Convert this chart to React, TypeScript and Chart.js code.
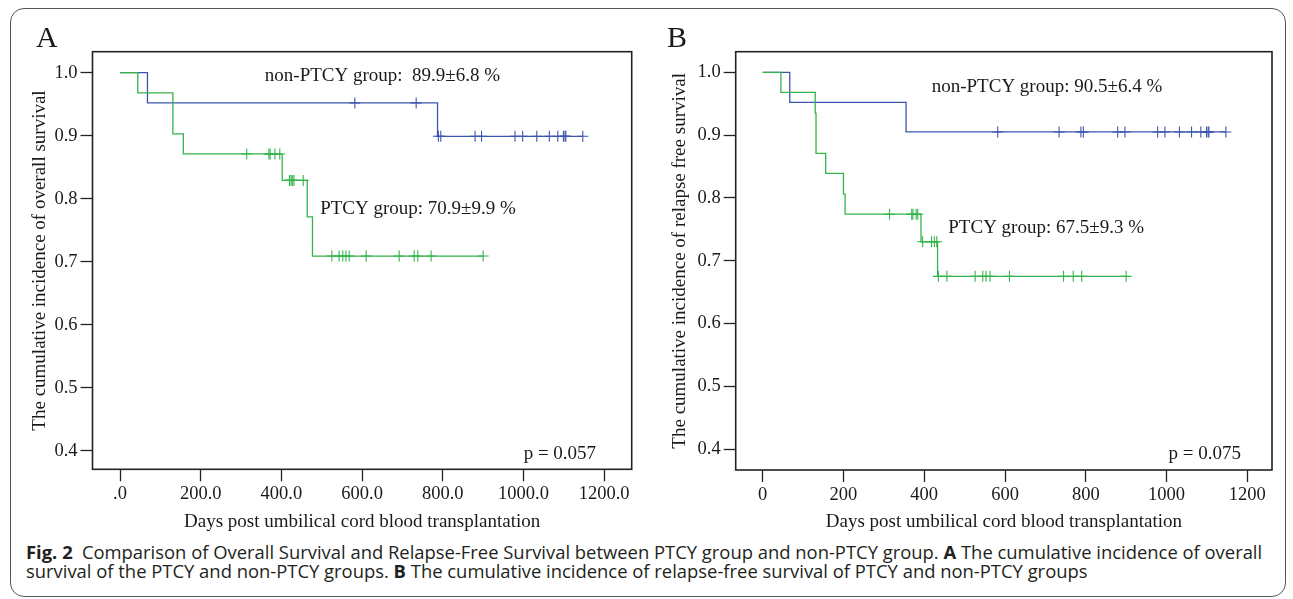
import React, { useEffect, useLayoutEffect, useRef, useState } from 'react';
import { Chart, registerables } from 'chart.js';

Chart.register(...registerables);

const SERIF = "'Liberation Serif', 'Times New Roman', Times, serif";
const BLUE = '#3c55b0';
const GREEN = '#33b44a';
const INK = '#1a1a1a';

// ---------- shared ticks ----------
const xTickValues = [0, 200, 400, 600, 800, 1000, 1200];
const yTickValues = [0.4, 0.5, 0.6, 0.7, 0.8, 0.9, 1.0];

// ---------- Panel A: overall survival ----------
const osNonPtcyDays = [0, 68, 787, 1147];
const osNonPtcySurv = [1.0, 0.952, 0.899, 0.899];
const osNonPtcyCensored = [582, 734, 789, 795, 880, 896, 979, 998, 1033, 1064, 1085, 1099, 1103, 1105, 1147];

const osPtcyDays = [0, 44, 131, 157, 402, 464, 477, 900];
const osPtcySurv = [1.0, 0.968, 0.903, 0.871, 0.829, 0.771, 0.709, 0.709];
const osPtcyCensored = [314, 369, 372, 384, 396, 420, 424, 427, 431, 454, 525, 543, 552, 560, 568, 610, 692, 729, 738, 771, 900];

const osLabels = ['non-PTCY group:  89.9±6.8 %', 'PTCY group: 70.9±9.9 %', 'p = 0.057'];

// ---------- Panel B: relapse-free survival ----------
const rfsNonPtcyDays = [0, 67, 355, 1147];
const rfsNonPtcySurv = [1.0, 0.952, 0.905, 0.905];
const rfsNonPtcyCensored = [582, 734, 788, 794, 879, 897, 978, 996, 1032, 1062, 1085, 1099, 1103, 1105, 1147];

const rfsPtcyDays = [0, 45, 130, 132, 156, 200, 204, 392, 433, 900];
const rfsPtcySurv = [1.0, 0.968, 0.935, 0.871, 0.839, 0.806, 0.774, 0.73, 0.675, 0.675];
const rfsPtcyCensored = [314, 369, 372, 380, 384, 396, 418, 425, 431, 435, 456, 526, 545, 553, 563, 611, 745, 769, 790, 900];

const rfsLabels = ['non-PTCY group: 90.5±6.4 %', 'PTCY group: 67.5±9.3 %', 'p = 0.075'];

// ---------- helpers ----------
function survAt(days: number[], surv: number[], t: number) {
  let v = surv[0];
  for (let i = 0; i < days.length; i++) if (days[i] <= t) v = surv[i];
  return v;
}

type PanelSpec = {
  letter: string;
  left: number;
  width: number;
  height: number;
  padding: { left: number; top: number; right: number; bottom: number };
  yAxisWidth: number;
  xAxisHeight: number;
  xMin: number; xMax: number; yMin: number; yMax: number;
  yTitle: string;
  yTitlePad: number;
  xFmt: (v: number) => string;
  nonDays: number[]; nonSurv: number[]; nonCens: number[];
  ptDays: number[]; ptSurv: number[]; ptCens: number[];
  labels: string[];
  labelPos: { x: number; y: number; align: CanvasTextAlign }[];
  letterX: number; letterY: number;
};

const specA: PanelSpec = {
  letter: 'A', left: 0, width: 645, height: 540,
  padding: { left: 0, top: 51.7, right: 13.3, bottom: 0 },
  yAxisWidth: 92.5, xAxisHeight: 70.7,
  xMin: -68.2, xMax: 1268.2, yMin: 0.3705, yMax: 1.0333,
  yTitle: 'The cumulative incidence of overall survival', yTitlePad: 28.6,
  xFmt: (v) => (v === 0 ? '.0' : v.toFixed(1)),
  nonDays: osNonPtcyDays, nonSurv: osNonPtcySurv, nonCens: osNonPtcyCensored,
  ptDays: osPtcyDays, ptSurv: osPtcySurv, ptCens: osPtcyCensored,
  labels: osLabels,
  labelPos: [
    { x: 359, y: 0.994, align: 'left' },
    { x: 496, y: 0.783, align: 'left' },
    { x: 1180, y: 0.395, align: 'right' },
  ],
  letterX: 36, letterY: 47,
};

const specB: PanelSpec = {
  letter: 'B', left: 645, width: 648, height: 540,
  padding: { left: 0, top: 51.7, right: 21, bottom: 0 },
  yAxisWidth: 90.7, xAxisHeight: 70,
  xMin: -66.9, xMax: 1261.2, yMin: 0.3666, yMax: 1.0328,
  yTitle: 'The cumulative incidence of relapse free survival', yTitlePad: 23.3,
  xFmt: (v) => String(v),
  nonDays: rfsNonPtcyDays, nonSurv: rfsNonPtcySurv, nonCens: rfsNonPtcyCensored,
  ptDays: rfsPtcyDays, ptSurv: rfsPtcySurv, ptCens: rfsPtcyCensored,
  labels: rfsLabels,
  labelPos: [
    { x: 418.5, y: 0.977, align: 'left' },
    { x: 459.6, y: 0.7515, align: 'left' },
    { x: 1184.4, y: 0.392, align: 'right' },
  ],
  letterX: 22, letterY: 46.7,
};

function buildConfig(p: PanelSpec): any {
  const line = (days: number[], surv: number[], color: string) => ({
    data: days.map((d, i) => ({ x: d, y: surv[i] })),
    borderColor: color,
    borderWidth: 1.3,
    stepped: 'before',
    pointRadius: 0,
    fill: false,
    tension: 0,
  });
  const cens = (c: number[], days: number[], surv: number[], color: string) => ({
    data: c.map((d) => ({ x: d, y: survAt(days, surv, d) })),
    showLine: false,
    pointStyle: 'cross',
    pointRadius: 5.5,
    pointBorderWidth: 1.1,
    pointBorderColor: color,
    pointBackgroundColor: color,
    borderColor: color,
  });

  const framePlugin = {
    id: 'frame',
    afterDraw(chart: any) {
      const { ctx, chartArea: a, scales } = chart;
      ctx.save();
      ctx.strokeStyle = '#222';
      ctx.lineWidth = 1.6;
      ctx.strokeRect(a.left, a.top, a.right - a.left, a.bottom - a.top);
      ctx.fillStyle = INK;
      ctx.font = `19px ${SERIF}`;
      ctx.textBaseline = 'middle';
      p.labels.forEach((t, i) => {
        const pos = p.labelPos[i];
        ctx.textAlign = pos.align;
        ctx.fillText(t, scales.x.getPixelForValue(pos.x), scales.y.getPixelForValue(pos.y));
      });
      ctx.font = `30px ${SERIF}`;
      ctx.textAlign = 'left';
      ctx.textBaseline = 'alphabetic';
      ctx.fillText(p.letter, p.letterX, p.letterY);
      ctx.restore();
    },
  };

  const tickFont = { family: SERIF, size: 18.5, lineHeight: 1.2 };
  const titleFont = { family: SERIF, size: 19, lineHeight: 1.2 };
  const grid = {
    display: true,
    drawOnChartArea: false,
    drawTicks: true,
    tickLength: 12,
    tickWidth: 1.3,
    tickColor: '#222',
    color: '#222',
  };

  return {
    type: 'line',
    data: {
      datasets: [
        line(p.ptDays, p.ptSurv, GREEN),
        cens(p.ptCens, p.ptDays, p.ptSurv, GREEN),
        line(p.nonDays, p.nonSurv, BLUE),
        cens(p.nonCens, p.nonDays, p.nonSurv, BLUE),
      ],
    },
    options: {
      responsive: false,
      animation: false,
      events: [],
      layout: { padding: p.padding },
      plugins: { legend: { display: false }, tooltip: { enabled: false } },
      scales: {
        x: {
          type: 'linear',
          min: p.xMin,
          max: p.xMax,
          afterBuildTicks: (ax: any) => { ax.ticks = xTickValues.map((v) => ({ value: v })); },
          afterFit: (s: any) => { s.height = p.xAxisHeight; },
          grid,
          border: { display: false },
          ticks: { font: tickFont, color: INK, padding: 2, maxRotation: 0, autoSkip: false, callback: (v: any) => p.xFmt(Number(v)) },
          title: { display: true, text: 'Days post umbilical cord blood transplantation', font: titleFont, color: INK, padding: { top: 0, bottom: 6.6 } },
        },
        y: {
          type: 'linear',
          min: p.yMin,
          max: p.yMax,
          afterBuildTicks: (ax: any) => { ax.ticks = yTickValues.map((v) => ({ value: v })); },
          afterFit: (s: any) => { s.width = p.yAxisWidth; },
          grid,
          border: { display: false },
          ticks: { font: tickFont, color: INK, padding: 3, autoSkip: false, callback: (v: any) => Number(v).toFixed(1) },
          title: { display: true, text: p.yTitle, font: titleFont, color: INK, padding: { top: p.yTitlePad, bottom: 0 } },
        },
      },
    },
    plugins: [framePlugin],
  };
}

function Panel({ spec }: { spec: PanelSpec }) {
  const ref = useRef<HTMLCanvasElement>(null);
  useEffect(() => {
    const chart = new Chart(ref.current as HTMLCanvasElement, buildConfig(spec));
    return () => chart.destroy();
  }, []);
  return (
    <canvas
      ref={ref}
      width={spec.width}
      height={spec.height}
      style={{ position: 'absolute', left: spec.left, top: 0, width: spec.width, height: spec.height }}
    />
  );
}

function Caption() {
  const l1 = useRef<HTMLDivElement>(null);
  const [scale, setScale] = useState(1);
  useLayoutEffect(() => {
    if (l1.current) setScale(1236 / l1.current.offsetWidth);
  }, []);
  const common: React.CSSProperties = {
    position: 'absolute',
    left: 26,
    whiteSpace: 'nowrap',
    fontFamily: "'Open Sans', 'Noto Sans', sans-serif",
    fontSize: 18,
    lineHeight: '19px',
    color: '#231f20',
    transform: `scaleX(${scale})`,
    transformOrigin: '0 0',
  };
  return (
    <>
      <div ref={l1} style={{ ...common, top: 542.8 }}>
        <b>Fig. 2</b>{'\u2002'}Comparison of Overall Survival and Relapse-Free Survival between PTCY group and non-PTCY group. <b>A</b> The cumulative incidence of overall
      </div>
      <div style={{ ...common, top: 562 }}>
        survival of the PTCY and non-PTCY groups. <b>B</b> The cumulative incidence of relapse-free survival of PTCY and non-PTCY groups
      </div>
    </>
  );
}

export default function App() {
  return (
    <div style={{ position: 'absolute', left: 0, top: 0, width: 1293, height: 599, background: '#fff', overflow: 'hidden' }}>
      <div
        style={{
          position: 'absolute', left: 10, top: 8, width: 1276, height: 589,
          border: '1.5px solid #555', borderRadius: 14, boxSizing: 'border-box',
        }}
      />
      <Panel spec={specA} />
      <Panel spec={specB} />
      <Caption />
    </div>
  );
}
